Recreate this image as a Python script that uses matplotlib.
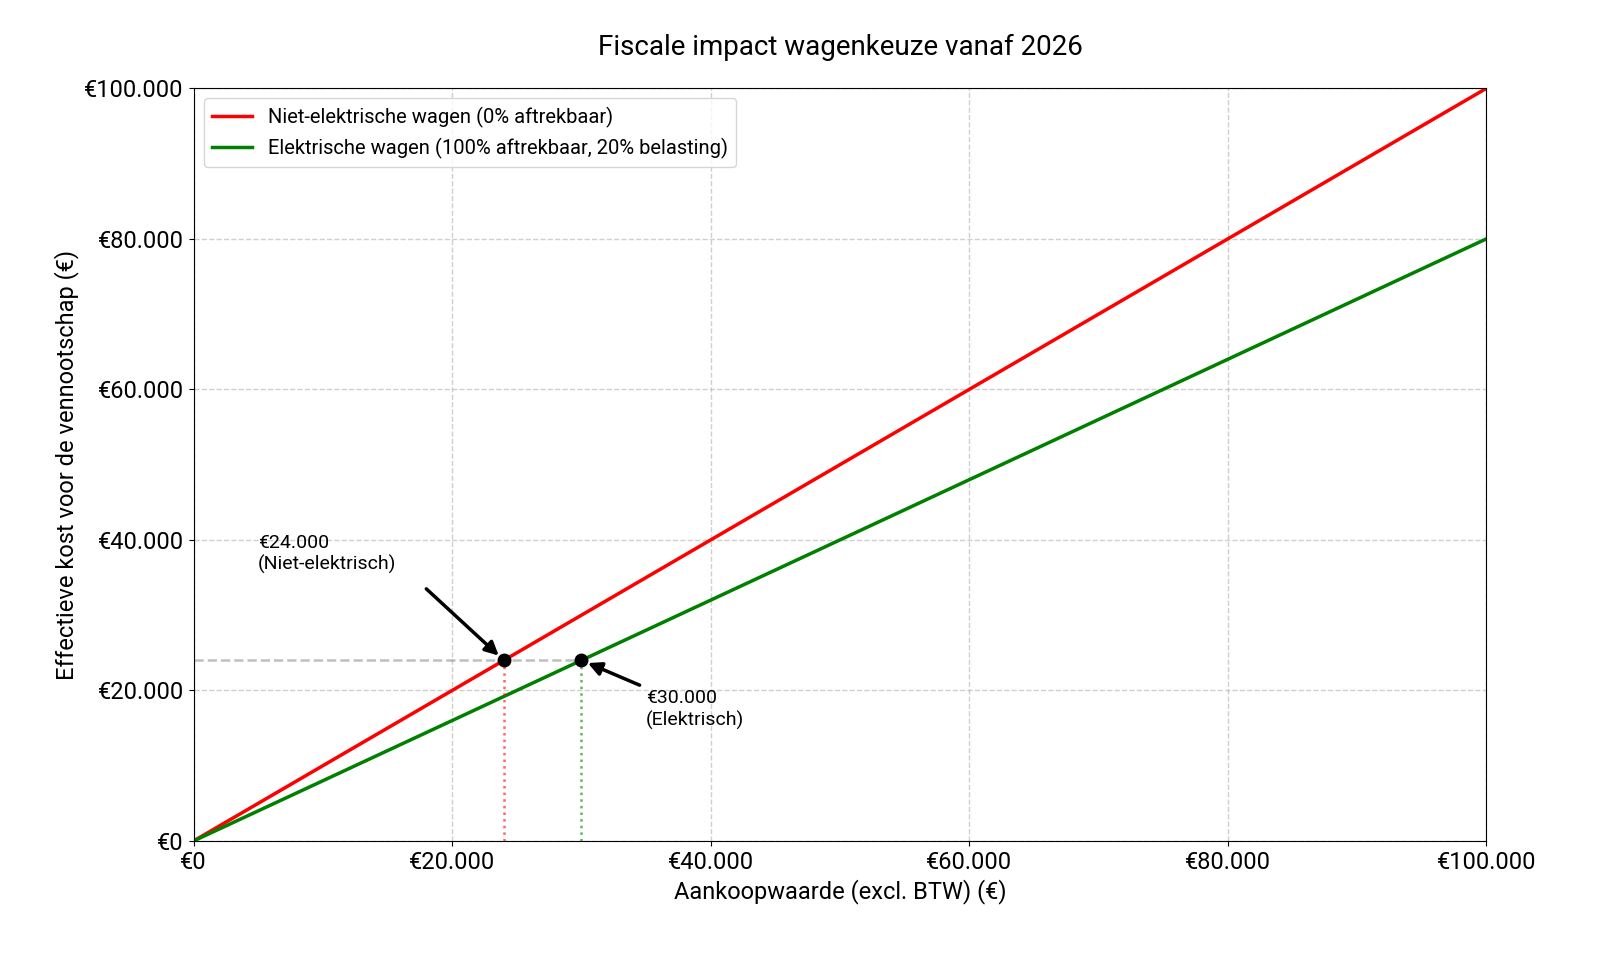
import matplotlib
matplotlib.use("Agg")
import matplotlib.pyplot as plt
import numpy as np
from matplotlib.ticker import FuncFormatter

plt.rcParams['font.family'] = ['Roboto', 'DejaVu Sans']

x_vals = [0, 100000]
niet_elek = [0, 100000]
elek = [0, 80000]
pt_niet = (24000, 24000)
pt_elek = (30000, 24000)

fig = plt.figure(figsize=(16, 9.6), dpi=100)
ax = fig.add_axes([0.121, 0.124, 0.808, 0.784])
ax.plot(x_vals, niet_elek, color='red', lw=2.5, label='Niet-elektrische wagen (0% aftrekbaar)')
ax.plot(x_vals, elek, color='green', lw=2.5, label='Elektrische wagen (100% aftrekbaar, 20% belasting)')
ax.plot([0, pt_elek[0]], [pt_niet[1], pt_niet[1]], color='gray', ls='--', lw=1.8, alpha=0.5)
ax.plot([pt_niet[0]]*2, [0, pt_niet[1]], color='red', ls=':', lw=1.8, alpha=0.6)
ax.plot([pt_elek[0]]*2, [0, pt_elek[1]], color='green', ls=':', lw=1.8, alpha=0.6)
ax.plot(*pt_niet, 'ko', ms=9, zorder=5)
ax.plot(*pt_elek, 'ko', ms=9, zorder=5)
arrow = dict(arrowstyle='-|>', color='black', lw=2.5, mutation_scale=20, shrinkA=0, shrinkB=5)
ax.text(5000, 35500, '€24.000\n(Niet-elektrisch)', fontsize=14, ha='left', va='bottom')
ax.annotate('', xy=pt_niet, xytext=(18000, 33500), arrowprops=arrow)
ax.text(35000, 14800, '€30.000\n(Elektrisch)', fontsize=14, ha='left', va='bottom')
ax.annotate('', xy=pt_elek, xytext=(34500, 20700), arrowprops=arrow)

fmt = FuncFormatter(lambda v, p: '€' + f'{int(v):,}'.replace(',', '.'))
ax.xaxis.set_major_formatter(fmt)
ax.yaxis.set_major_formatter(fmt)
ax.set_xlim(0, 100000)
ax.set_ylim(0, 100000)
ax.set_xticks(np.arange(0, 100001, 20000))
ax.set_yticks(np.arange(0, 100001, 20000))
ax.tick_params(labelsize=17)
ax.grid(True, ls='--', alpha=0.6, lw=1)
ax.set_xlabel('Aankoopwaarde (excl. BTW) (€)', fontsize=17)
ax.set_ylabel('Effectieve kost voor de vennootschap (€)', fontsize=17)
ax.set_title('Fiscale impact wagenkeuze vanaf 2026', fontsize=20, pad=24)
ax.legend(loc='upper left', fontsize=14.5)
fig.savefig('out.png')
